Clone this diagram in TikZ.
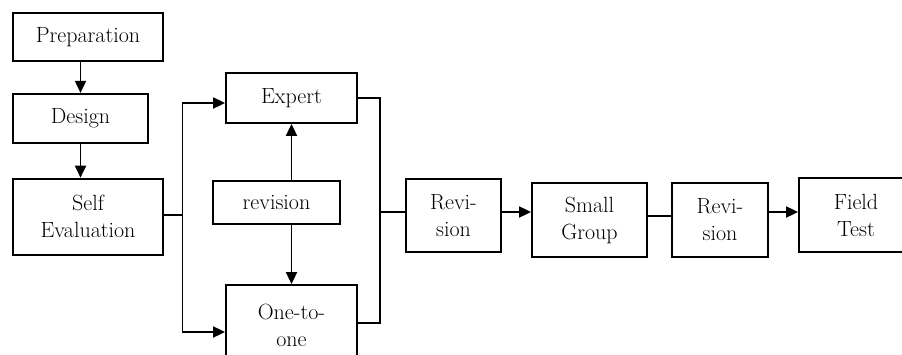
\documentclass[tikz,border=0pt]{standalone}
\usetikzlibrary{arrows.meta,positioning}

\begin{document}
\begin{tikzpicture}[>={Triangle[length=12pt,width=11pt]}, x=1pt, y=1pt, line width=1.8pt, font=\fontsize{22}{27}\selectfont]
		\tikzstyle{block}=[draw=black,fill=white,align=center,inner sep=2pt]
		\clip (0,0) rectangle (902,-354);
		% left column
		\node[block, minimum width=150pt, minimum height=48pt] (prep) at (88,-37) {Preparation};
		\node[block, minimum width=135pt, minimum height=49pt, below=31pt of prep.south west, anchor=north west] (design) {Design};
		\node[block, minimum width=150pt, minimum height=76pt, below=34pt of design.south west, anchor=north west] (selfeval) {Self\\Evaluation};
		% expert / one-to-one
		\node[block, minimum width=131pt, minimum height=50pt] (expert) at (291.5,-98) {Expert};
		\node[block, minimum width=127pt, minimum height=43pt] (review) at (276.5,-202.5) {revision};
		\node[block, minimum width=131pt, minimum height=80pt] (onetoone) at (291.5,-325) {One-to-\\one};
		% main row
		\node[block, minimum width=95pt, minimum height=73pt] (revone) at (453.5,-215.5) {Revi-\\sion};
		\node[block, minimum width=115pt, minimum height=74pt] (small) at (589.5,-220) {Small\\Group};
		\node[block, minimum width=96pt, minimum height=74pt] (revtwo) at (720,-220) {Revi-\\sion};
		\node[block, minimum width=114pt, minimum height=74pt] (field) at (856,-215) {Field\\Test};
		\coordinate (split) at (182.5,-215);
		\coordinate (merge) at (380,-212);
		\draw[->] (design.north |- prep.south) -- (design.north);
		\draw[->] (design.south) -- (design.south |- selfeval.north);
		\draw (selfeval.east |- split) -- (split);
		\draw[->] (split) |- ([yshift=-5pt]expert.west);
		\draw[->] (split) |- ([yshift=-7pt]onetoone.west);
		\draw[->] (review.north -| expert) -- (expert.south);
		\draw[->] (review.south -| onetoone) -- (onetoone.north);
		\draw (expert.east) -| (merge) |- ([yshift=2pt]onetoone.east);
		\draw (merge) -- (revone.west |- merge);
		\draw[->] (revone.east |- merge) -- (small.west |- merge);
		\draw ([yshift=4pt]small.east) -- ([yshift=4pt]revtwo.west);
		\draw[->] (revtwo.east |- merge) -- (field.west |- merge);
	\end{tikzpicture}
\end{document}
